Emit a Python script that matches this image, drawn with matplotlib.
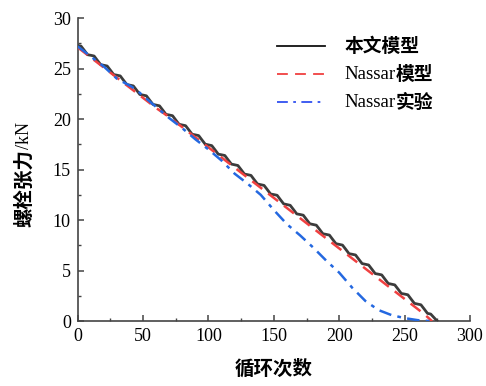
import matplotlib
matplotlib.use("Agg")
import matplotlib.pyplot as plt
from matplotlib.ticker import MultipleLocator

# cycles / bolt tension (kN)
cyc_model = [i * 2.5 for i in range(111)]
f_model = [
    27.30, 27.23, 26.81, 26.38, 26.32, 26.25, 25.82, 25.40, 25.33, 25.26,
    24.84, 24.41, 24.35, 24.28, 23.85, 23.43, 23.36, 23.29, 22.87, 22.44,
    22.38, 22.31, 21.88, 21.46, 21.39, 21.32, 20.90, 20.47, 20.41, 20.34,
    19.91, 19.49, 19.42, 19.35, 18.93, 18.50, 18.44, 18.37, 17.94, 17.52,
    17.45, 17.38, 16.96, 16.53, 16.47, 16.40, 15.97, 15.55, 15.48, 15.41,
    14.99, 14.56, 14.50, 14.43, 14.00, 13.58, 13.51, 13.44, 13.02, 12.59,
    12.53, 12.46, 12.03, 11.61, 11.54, 11.47, 11.05, 10.62, 10.56, 10.49,
    10.06, 9.64, 9.57, 9.50, 9.08, 8.65, 8.59, 8.52, 8.09, 7.67,
    7.60, 7.53, 7.11, 6.68, 6.62, 6.55, 6.12, 5.70, 5.63, 5.56,
    5.14, 4.71, 4.65, 4.58, 4.15, 3.73, 3.66, 3.59, 3.17, 2.74,
    2.68, 2.61, 2.18, 1.76, 1.69, 1.62, 1.20, 0.77, 0.70, 0.35,
    0.00,
]

cyc_nassar = [0, 10, 20, 30, 40, 50, 60, 70, 80, 90, 100, 110, 120, 130, 140,
              150, 160, 170, 180, 190, 200, 210, 220, 230, 240, 250, 260, 265, 271]
f_nassar = [27.1, 26.1, 25.1, 24.1, 23.1, 22.1, 21.1, 20.2, 19.2, 18.2, 17.2,
            16.2, 15.2, 14.2, 13.2, 12.2, 11.2, 10.2, 9.2, 8.2, 7.2, 6.2, 5.2,
            4.2, 3.2, 2.2, 1.2, 0.7, 0.0]

cyc_test = [0, 10, 20, 30, 40, 45, 50, 60, 70, 80, 90, 100, 110, 120, 130, 140,
            150, 160, 170, 180, 190, 200, 210, 220, 230, 240, 250, 260, 270]
f_test = [27.2, 26.2, 25.2, 24.0, 23.3, 22.9, 22.3, 21.2, 20.1, 19.1, 18.0,
          17.0, 15.9, 14.6, 13.6, 12.5, 11.0, 9.6, 8.5, 7.3, 6.0, 4.8, 3.3,
          2.0, 1.1, 0.6, 0.3, 0.1, 0.0]

serif = "Liberation Serif"
cjk = "Noto Sans CJK SC"
c_model, c_nassar, c_test = "#3c3c3c", "#f04040", "#2468e0"

fig = plt.figure(figsize=(4.86, 3.86), dpi=100)
ax = fig.add_axes([0.160, 0.168, 0.807, 0.785])

ax.plot(cyc_model, f_model, color=c_model, lw=2.0, zorder=3)
ax.plot(cyc_nassar, f_nassar, color=c_nassar, lw=1.8, dashes=(5, 3), zorder=4)
ax.plot(cyc_test, f_test, color=c_test, lw=1.8, dashes=(5, 2.5, 1.5, 2.5), zorder=5)

ax.set_xlim(0, 300)
ax.set_ylim(0, 30)
ax.xaxis.set_major_locator(MultipleLocator(50))
ax.xaxis.set_minor_locator(MultipleLocator(25))
ax.yaxis.set_major_locator(MultipleLocator(5))
ax.yaxis.set_minor_locator(MultipleLocator(2.5))
for s in ["top", "right"]:
    ax.spines[s].set_visible(False)
for s in ["left", "bottom"]:
    ax.spines[s].set_linewidth(1.2)
    ax.spines[s].set_color("#444444")
ax.tick_params(which="major", direction="in", length=4, width=1.1,
               color="#444444", labelsize=13, pad=5)
ax.tick_params(which="minor", direction="in", length=2.5, width=1.0,
               color="#444444")
for lab in ax.get_xticklabels() + ax.get_yticklabels():
    lab.set_fontfamily(serif)

ax.set_xlabel("循环次数", fontfamily=cjk, fontweight="bold", fontsize=14,
              labelpad=10)

# y label: bold CJK part plus regular serif unit
t = ax.text(-0.135, 0.44, "螺栓张力", transform=ax.transAxes, rotation=90,
            ha="center", va="center", fontfamily=cjk, fontweight="bold",
            fontsize=14)
ax.annotate("/kN", xy=(0.5, 1.0), xycoords=t, rotation=90, ha="center",
            va="bottom", fontfamily=serif, fontsize=13)

# legend drawn by hand (mixed fonts)
rows = [
    (0.908, dict(color="#111111", lw=1.3), None, "本文模型"),
    (0.815, dict(color=c_nassar, lw=1.3, dashes=(6, 4)), "Nassar", "模型"),
    (0.723, dict(color="#3050f0", lw=1.3, dashes=(6, 3, 1.5, 3)), "Nassar", "实验"),
]
for y, style, latin, han in rows:
    ax.plot([0.508, 0.630], [y, y], transform=ax.transAxes, clip_on=False, **style)
    if latin is None:
        ax.text(0.681, y, han, transform=ax.transAxes, va="center", ha="left",
                fontfamily=cjk, fontweight="bold", fontsize=13.5)
    else:
        tl = ax.text(0.681, y, latin, transform=ax.transAxes, va="center",
                     ha="left", fontfamily=serif, fontsize=13.5)
        ax.annotate(han, xy=(1.0, 0.5), xycoords=tl, va="center", ha="left",
                    fontfamily=cjk, fontweight="bold", fontsize=13.5)

fig.savefig("out.png", dpi=100)
